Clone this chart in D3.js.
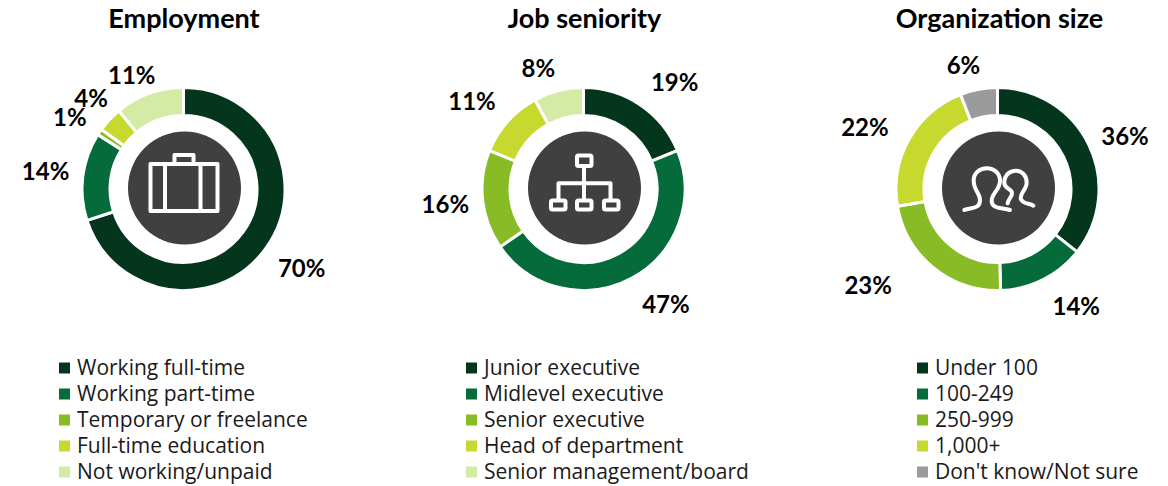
<!DOCTYPE html>
<html>
<head>
<meta charset="utf-8">
<script src="https://cdn.jsdelivr.net/npm/d3@7"></script>
<style>
  html, body { margin: 0; padding: 0; background: #fff; }
  svg { display: block; }
</style>
</head>
<body>
<div id="chart"></div>
<script>
const titles = ["Employment", "Job seniority", "Organization size"];

const employmentLabels = ["Working full-time", "Working part-time", "Temporary or freelance", "Full-time education", "Not working/unpaid"];
const employmentValues = [70, 14, 1, 4, 11];

const seniorityLabels = ["Junior executive", "Midlevel executive", "Senior executive", "Head of department", "Senior management/board"];
const seniorityValues = [19, 47, 16, 11, 8];

const sizeLabels = ["Under 100", "100-249", "250-999", "1,000+", "Don't know/Not sure"];
const sizeValues = [36, 14, 23, 22, 6];

const greens = ["#03361d", "#056b3a", "#88bc26", "#c7d82f", "#d3eba5"];
const sizeColors = ["#03361d", "#056b3a", "#88bc26", "#c7d82f", "#9b9b9b"];

// hand placed labels, nudged from the default radius like in the original
const employmentNudge = [[9, 0], [-4, 0], [-2, 4], [6, 2], [-6, 14]];
const seniorityNudge = [[16, 6], [18, -3], [-4, 1], [-11, 3], [-12, 10]];
const sizeNudge = [[6, 6], [18, -3], [-44, -8], [-15, 5], [-9, 9]];

const width = 1168;
const height = 486;
const outerR = 101.5;
const innerR = 73.5;
const labelR = 135;

const svg = d3.select("#chart").append("svg")
  .attr("width", width)
  .attr("height", height);

const panels = [
  { title: titles[0], labels: employmentLabels, values: employmentValues, colors: greens, nudge: employmentNudge, cx: 183.5, titleX: 184, legendX: 59, icon: drawBriefcase },
  { title: titles[1], labels: seniorityLabels, values: seniorityValues, colors: greens, nudge: seniorityNudge, cx: 583.5, titleX: 584.5, legendX: 466, icon: drawNetwork },
  { title: titles[2], labels: sizeLabels, values: sizeValues, colors: sizeColors, nudge: sizeNudge, cx: 997.5, titleX: 999.5, legendX: 917, icon: drawPeople }
];

const pie = d3.pie().sort(null).value((d) => d);
const arc = d3.arc().innerRadius(innerR).outerRadius(outerR);
const labelArc = d3.arc().innerRadius(labelR).outerRadius(labelR);

panels.forEach((p) => {
  svg.append("text")
    .attr("x", p.titleX)
    .attr("y", 28)
    .attr("text-anchor", "middle")
    .style("font-family", "Lato, sans-serif")
    .style("font-size", "27px")
    .style("font-weight", "bold")
    .style("fill", "#000")
    .text(p.title);

  const g = svg.append("g").attr("transform", `translate(${p.cx},189)`);
  const arcs = pie(p.values);

  g.selectAll("path.slice")
    .data(arcs)
    .enter()
    .append("path")
    .attr("class", "slice")
    .attr("d", arc)
    .attr("fill", (d, i) => p.colors[i])
    .attr("stroke", "#fff")
    .attr("stroke-width", 3);

  g.selectAll("text")
    .data(arcs)
    .enter()
    .append("text")
    .attr("x", (d, i) => labelArc.centroid(d)[0] + p.nudge[i][0])
    .attr("y", (d, i) => labelArc.centroid(d)[1] + p.nudge[i][1])
    .attr("dy", ".35em")
    .attr("text-anchor", "middle")
    .style("font-family", "Lato, sans-serif")
    .style("font-size", "24px")
    .style("font-weight", "bold")
    .style("fill", "#000")
    .text((d) => d.data + "%");

  // dark disc with the pictogram
  const c = g.append("g").attr("transform", "translate(1,-1)");
  c.append("circle").attr("r", 56.5).attr("fill", "#404040");
  p.icon(c);

  const row = d3.scalePoint()
    .domain(p.labels)
    .range([368, 472]);

  const legend = svg.append("g");
  legend.selectAll("rect")
    .data(p.labels)
    .enter()
    .append("rect")
    .attr("x", p.legendX)
    .attr("y", (d) => row(d) - 5.5)
    .attr("width", 11)
    .attr("height", 11)
    .attr("fill", (d, i) => p.colors[i]);

  legend.selectAll("text")
    .data(p.labels)
    .enter()
    .append("text")
    .attr("x", p.legendX + 18)
    .attr("y", (d) => row(d))
    .attr("dy", ".35em")
    .style("font-family", "'Open Sans', sans-serif")
    .style("font-size", "21px")
    .style("fill", "#1a1a1a")
    .text((d) => d);
});

function iconStyle(sel) {
  return sel.attr("fill", "none").attr("stroke", "#fff").attr("stroke-width", 4).attr("stroke-linejoin", "round");
}

function drawBriefcase(c) {
  iconStyle(c.append("rect")).attr("x", -34).attr("y", -24).attr("width", 67).attr("height", 47);
  iconStyle(c.append("rect")).attr("x", -10).attr("y", -33).attr("width", 19).attr("height", 9);
  iconStyle(c.append("path")).attr("d", "M-19.5,-24V23M16,-24V23");
}

function drawNetwork(c) {
  [[-7.5, -32.5], [-33.5, 12.5], [-7.5, 12.5], [19.5, 12.5]].forEach((b) => {
    iconStyle(c.append("rect"))
      .attr("x", b[0])
      .attr("y", b[1])
      .attr("width", 14.5)
      .attr("height", b[1] < 0 ? 10.5 : 9)
      .attr("rx", 1.5);
  });
  iconStyle(c.append("path")).attr("d", "M-0.5,-22V12.5M-26,12.5V-4.7H26V12.5");
}

function drawPeople(c) {
  const g = c.append("g").attr("transform", "translate(-53.5,-58) scale(0.3333)");
  iconStyle(g.append("path"))
    .attr("stroke-width", 12)
    .attr("stroke-linecap", "round")
    .attr("d", "M58,240C80,232 105,238 105,210C105,190 86,180 86,152C86,128 105,115 125,115C148,115 165,130 165,152C165,180 140,190 140,212C140,238 170,232 195,240");
  iconStyle(g.append("path"))
    .attr("stroke-width", 12)
    .attr("stroke-linecap", "round")
    .attr("d", "M188,220C192,200 205,200 200,185C195,175 178,175 178,158C178,135 195,122 212,122C232,122 245,138 245,158C245,180 222,190 228,208C235,225 255,218 265,227");
}
</script>
</body>
</html>
